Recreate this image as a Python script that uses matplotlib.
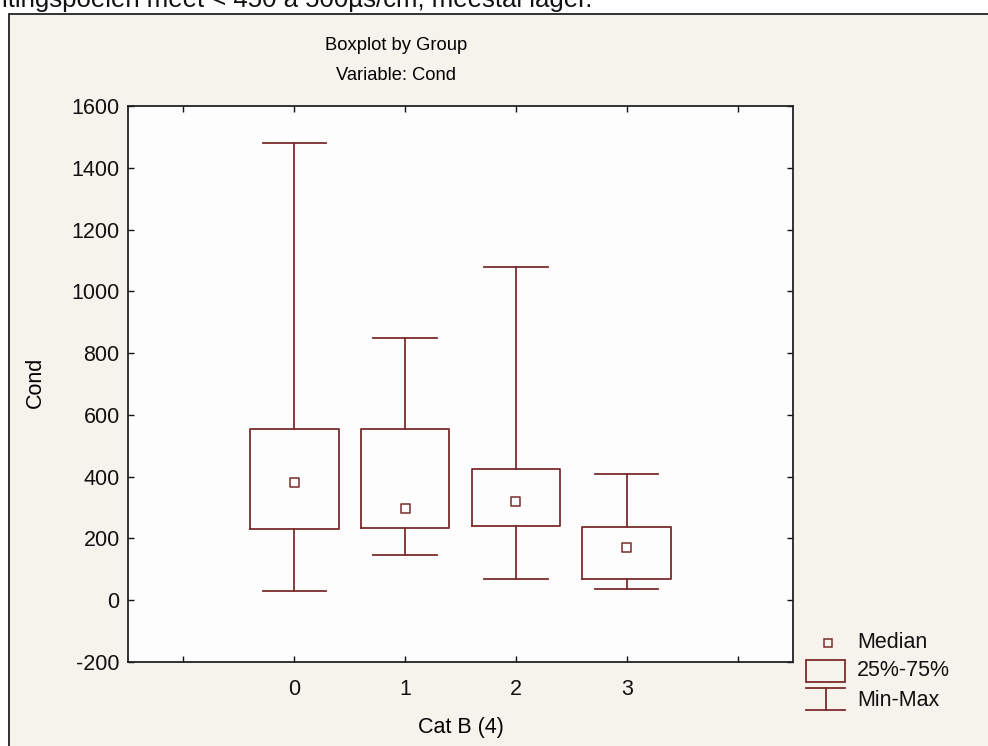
import matplotlib.pyplot as plt
from matplotlib.patches import Rectangle
from matplotlib.lines import Line2D

# ============================================================
# DATA
# ============================================================
groups = [0, 1, 2, 3]
mins = [31, 146, 69, 35]
q1 = [230, 233, 239, 70]
medians = [381, 296, 320, 170]
q3 = [553, 553, 426, 238]
maxs = [1479, 850, 1078, 408]

box_color = '#7b2c2c'
plt.rcParams['font.family'] = ['Liberation Sans', 'DejaVu Sans']
plt.rcParams['axes.unicode_minus'] = False

W, H = 988, 746
fig = plt.figure(figsize=(W / 100, H / 100), dpi=100, facecolor='white')

def fx(px):
  return px / W

def fy(py):
  return 1 - py / H

# scanned page background + frame
fig.patches.append(Rectangle((fx(9), fy(800)), fx(1100), fy(14) - fy(800),
                             transform=fig.transFigure, facecolor='#f5f3ec',
                             edgecolor='#222222', lw=1.3, zorder=0))
fig.text(fx(2), fy(7), 'itingspoelen meet < 450 à 500µs/cm, meestal lager.',
         fontsize=18.5, ha='left', va='baseline', color='#111111')

ax = fig.add_axes([fx(128), fy(662), fx(793) - fx(128), fy(106) - fy(662)])
ax.set_zorder(2)
ax.set_facecolor('#fdfdfd')

stats = []
for g, lo, a, m, b, hi in zip(groups, mins, q1, medians, q3, maxs):
  stats.append(dict(label=str(g), whislo=lo, q1=a, med=m, q3=b, whishi=hi, fliers=[]))

lp = dict(color=box_color, lw=1.3)
ax.bxp(stats, positions=groups, widths=0.8, capwidths=0.57,
       boxprops=lp, whiskerprops=lp, capprops=lp,
       medianprops=dict(visible=False), showfliers=False, manage_ticks=False)
ax.scatter(groups, medians, marker='s', s=42, facecolor='none',
           edgecolor=box_color, linewidth=1.1, zorder=3)

ax.set_xlim(-1.5, 4.5)
ax.set_ylim(-200, 1600)
ax.set_xticks(range(-1, 5))
ax.set_xticklabels([''] + [str(g) for g in groups] + [''])
ax.set_yticks(range(-200, 1601, 200))
ax.tick_params(direction='in', length=4, width=1, top=True, right=True,
               labelsize=15.5, colors='#111111')
ax.tick_params(axis='x', pad=12)
ax.tick_params(axis='y', pad=6)
for s in ax.spines.values():
  s.set_linewidth(1.3)
  s.set_color('#222222')

fig.text(fx(396), fy(45), 'Boxplot by Group', fontsize=13.2, ha='center', va='center')
fig.text(fx(396), fy(76), 'Variable: Cond', fontsize=13.2, ha='center', va='center')
fig.text(fx(35), fy(382), 'Cond', fontsize=15.5, rotation=90, ha='center', va='center')
fig.text(fx(461), fy(728), 'Cat B (4)', fontsize=15.5, ha='center', va='center')

# ============================================================
# Legend (drawn by hand, like STATISTICA)
# ============================================================
kw = dict(transform=fig.transFigure, color=box_color, lw=1.3)
fig.lines.append(Line2D([fx(828)], [fy(643)], marker='s', ms=6, mfc='none',
                        mec=box_color, mew=1.1, transform=fig.transFigure))
fig.patches.append(Rectangle((fx(806), fy(682)), fx(845) - fx(806), fy(660) - fy(682),
                             transform=fig.transFigure, facecolor='none',
                             edgecolor=box_color, lw=1.3))
fig.lines.append(Line2D([fx(806), fx(845)], [fy(688), fy(688)], **kw))
fig.lines.append(Line2D([fx(826), fx(826)], [fy(688), fy(710)], **kw))
fig.lines.append(Line2D([fx(806), fx(845)], [fy(710), fy(710)], **kw))
for txt, py in [('Median', 643), ('25%-75%', 671), ('Min-Max', 700)]:
  fig.text(fx(857), fy(py), txt, fontsize=15.5, ha='left', va='center', color='#111111')

plt.savefig('out.png', dpi=100)
